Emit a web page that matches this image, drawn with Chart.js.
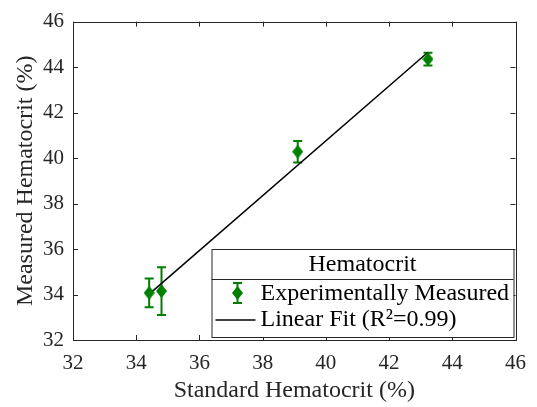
<!DOCTYPE html>
<html>
<head>
<meta charset="utf-8">
<script src="https://cdn.jsdelivr.net/npm/chart.js@4"></script>
<style>
  html, body { margin: 0; padding: 0; background: #fff; }
  #wrap { width: 537px; height: 407px; }
</style>
</head>
<body>
<div id="wrap"><canvas id="hctChart"></canvas></div>
<script>
// values
const standardHct = [34.41, 34.80, 39.11, 43.23];
const measuredHct = [34.07, 34.15, 40.28, 44.35];
const measuredErr = [0.63, 1.05, 0.47, 0.28];
const fitX = [34.41, 43.23];
const fitY = [34.02, 44.65];
const axisTicks = [32, 34, 36, 38, 40, 42, 44, 46];

const green = '#007f00';
const axisColor = '#262626';
const serif = '"Liberation Serif", "DejaVu Serif", serif';

// tall diamond like MATLAB's 'd' marker
function diamond(w, h) {
    const c = document.createElement('canvas');
    c.width = w; c.height = h;
    const g = c.getContext('2d');
    g.fillStyle = green;
    g.beginPath();
    g.moveTo(w / 2, 0);
    g.lineTo(w, h / 2);
    g.lineTo(w / 2, h);
    g.lineTo(0, h / 2);
    g.closePath();
    g.fill();
    return c;
}
const marker = diamond(11, 14);

const errorBars = {
    id: 'errorBars',
    beforeDatasetsDraw(chart) {
        const ctx = chart.ctx;
        const xs = chart.scales.x, ys = chart.scales.y;
        ctx.save();
        ctx.strokeStyle = green;
        ctx.lineWidth = 2;
        standardHct.forEach((sx, i) => {
            const px = xs.getPixelForValue(sx);
            const top = ys.getPixelForValue(measuredHct[i] + measuredErr[i]);
            const bot = ys.getPixelForValue(measuredHct[i] - measuredErr[i]);
            ctx.beginPath();
            ctx.moveTo(px, top); ctx.lineTo(px, bot);
            ctx.moveTo(px - 4.5, top); ctx.lineTo(px + 4.5, top);
            ctx.moveTo(px - 4.5, bot); ctx.lineTo(px + 4.5, bot);
            ctx.stroke();
        });
        ctx.restore();
    }
};

// box, inward ticks on all four sides
const axesBox = {
    id: 'axesBox',
    afterDatasetsDraw(chart) {
        const ctx = chart.ctx;
        const a = chart.chartArea;
        const xs = chart.scales.x, ys = chart.scales.y;
        ctx.save();
        ctx.strokeStyle = axisColor;
        ctx.lineWidth = 1;
        ctx.beginPath();
        axisTicks.forEach(v => {
            const px = Math.round(xs.getPixelForValue(v)) + 0.5;
            ctx.moveTo(px, a.bottom); ctx.lineTo(px, a.bottom - 5);
            ctx.moveTo(px, a.top); ctx.lineTo(px, a.top + 5);
            const py = Math.round(ys.getPixelForValue(v)) + 0.5;
            ctx.moveTo(a.left, py); ctx.lineTo(a.left + 5, py);
            ctx.moveTo(a.right, py); ctx.lineTo(a.right - 5, py);
        });
        ctx.stroke();
        ctx.strokeRect(Math.round(a.left) + 0.5, Math.round(a.top) + 0.5,
            Math.round(a.right - a.left), Math.round(a.bottom - a.top));
        ctx.restore();
    }
};

const boxLegend = {
    id: 'boxLegend',
    afterDraw(chart) {
        const ctx = chart.ctx;
        const a = chart.chartArea;
        const right = a.right - 2, bottom = a.bottom - 3;
        const left = right - 302, top = bottom - 88;
        const divider = top + 30;
        ctx.save();
        ctx.fillStyle = '#fff';
        ctx.fillRect(left, top, right - left, bottom - top);
        ctx.strokeStyle = axisColor;
        ctx.lineWidth = 1;
        ctx.strokeRect(left + 0.5, top + 0.5, right - left, bottom - top);
        ctx.beginPath();
        ctx.moveTo(left, divider + 0.5); ctx.lineTo(right, divider + 0.5);
        ctx.stroke();

        ctx.fillStyle = '#000';
        ctx.font = '24px ' + serif;
        ctx.textBaseline = 'middle';
        ctx.textAlign = 'center';
        ctx.fillText('Hematocrit', (left + right) / 2, top + 16);

        ctx.textAlign = 'left';
        const sets = chart.data.datasets;
        const y1 = divider + 14, y2 = divider + 41;
        const ix = left + 26;
        ctx.strokeStyle = green;
        ctx.lineWidth = 2;
        ctx.beginPath();
        ctx.moveTo(ix, y1 - 10); ctx.lineTo(ix, y1 + 10);
        ctx.moveTo(ix - 4.5, y1 - 10); ctx.lineTo(ix + 4.5, y1 - 10);
        ctx.moveTo(ix - 4.5, y1 + 10); ctx.lineTo(ix + 4.5, y1 + 10);
        ctx.stroke();
        ctx.drawImage(marker, ix - marker.width / 2, y1 - marker.height / 2);
        ctx.fillText(sets[0].label, left + 49, y1 + 1);

        ctx.strokeStyle = '#000';
        ctx.lineWidth = 1.5;
        ctx.beginPath();
        ctx.moveTo(left + 4, y2); ctx.lineTo(left + 44, y2);
        ctx.stroke();
        ctx.fillText(sets[1].label, left + 49, y2);
        ctx.restore();
    }
};

new Chart(document.getElementById('hctChart'), {
    type: 'scatter',
    data: {
        datasets: [{
            label: 'Experimentally Measured',
            data: standardHct.map((x, i) => ({ x: x, y: measuredHct[i] })),
            pointStyle: marker,
            backgroundColor: green,
            borderColor: green
        }, {
            type: 'line',
            label: 'Linear Fit (R\u00B2=0.99)',
            data: fitX.map((x, i) => ({ x: x, y: fitY[i] })),
            borderColor: '#000',
            borderWidth: 1.5,
            pointRadius: 0,
            fill: false
        }]
    },
    options: {
        responsive: true,
        maintainAspectRatio: false,
        animation: false,
        layout: { padding: { top: 15, right: 20, left: 0, bottom: 0 } },
        plugins: {
            legend: { display: false },
            tooltip: { enabled: false }
        },
        scales: {
            x: {
                type: 'linear',
                min: 32, max: 46,
                afterBuildTicks: s => { s.ticks = axisTicks.map(v => ({ value: v })); },
                afterFit: s => { s.height = 67; },
                grid: { display: false, drawTicks: false },
                border: { display: false },
                ticks: { padding: 11, color: axisColor, font: { family: serif, size: 21 } },
                title: {
                    display: true,
                    text: 'Standard Hematocrit (%)',
                    color: axisColor,
                    font: { family: serif, size: 24 },
                    padding: { top: 0, bottom: 2 }
                }
            },
            y: {
                type: 'linear',
                min: 32, max: 46,
                afterBuildTicks: s => { s.ticks = axisTicks.map(v => ({ value: v })); },
                afterFit: s => { s.width = 73; },
                grid: { display: false, drawTicks: false },
                border: { display: false },
                ticks: { padding: 9, color: axisColor, font: { family: serif, size: 21 } },
                title: {
                    display: true,
                    text: 'Measured Hematocrit (%)',
                    color: axisColor,
                    font: { family: serif, size: 24 },
                    padding: { top: 11, bottom: 0 }
                }
            }
        }
    },
    plugins: [errorBars, axesBox, boxLegend]
});
</script>
</body>
</html>
